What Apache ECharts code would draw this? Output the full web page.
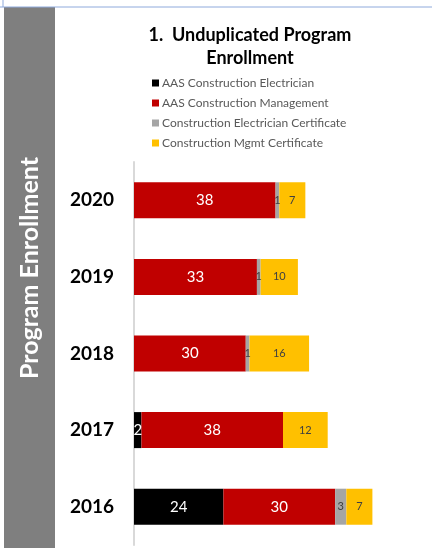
<!DOCTYPE html>
<html>
<head>
<meta charset="utf-8">
<script src="https://cdn.jsdelivr.net/npm/echarts@6/dist/echarts.min.js"></script>
<style>
    html, body { margin: 0; padding: 0; background: #fff; }
    #chart { width: 432px; height: 548px; }
</style>
</head>
<body>
<div id="chart"></div>
<script>
    // 年份 (bottom to top)
    var years = ['2016', '2017', '2018', '2019', '2020'];
    var seriesNames = ['AAS Construction Electrician', 'AAS Construction Management', 'Construction Electrician Certificate', 'Construction Mgmt Certificate'];
    var aasElectrician = [24, 2, 0, 0, 0];
    var aasManagement = [30, 38, 30, 33, 38];
    var electricianCert = [3, 0, 1, 1, 1];
    var mgmtCert = [7, 12, 16, 10, 7];

    var colors = ['#000000', '#c00000', '#a5a5a5', '#ffc000'];
    var labelColors = ['#ffffff', '#ffffff', '#404040', '#404040'];
    var labelSizes = [15, 15, 11, 11];
    var allData = [aasElectrician, aasManagement, electricianCert, mgmtCert];

    var series = allData.map(function (d, i) {
        return {
            name: seriesNames[i],
            type: 'bar',
            stack: 'total',
            barWidth: 36,
            data: d,
            itemStyle: { color: colors[i] },
            label: {
                show: true,
                position: 'inside',
                color: labelColors[i],
                fontSize: labelSizes[i],
                fontFamily: 'Lato',
                formatter: function (p) { return p.value ? p.value : ''; }
            }
        };
    });

    var chart = echarts.init(document.getElementById('chart'));
    chart.setOption({
        animation: false,
        color: colors,
        title: {
            text: '1.  Unduplicated Program\nEnrollment',
            left: 245,
            top: 19,
            textAlign: 'center',
            textStyle: {
                fontFamily: 'Lato',
                fontWeight: 'bold',
                fontSize: 18,
                lineHeight: 23,
                color: '#000'
            }
        },
        legend: {
            orient: 'vertical',
            left: 147,
            top: 72,
            icon: 'rect',
            itemWidth: 7,
            itemHeight: 7,
            itemGap: 8,
            data: seriesNames,
            textStyle: { fontFamily: 'Lato', fontSize: 12, lineHeight: 12, color: '#595959', padding: [0, 0, 0, -2] }
        },
        grid: { left: 134, right: 0, top: 162, bottom: 3, containLabel: false },
        xAxis: { type: 'value', min: 0, max: 80, show: false },
        yAxis: {
            type: 'category',
            data: years,
            axisLine: { lineStyle: { color: '#d9d9d9', width: 2 } },
            axisTick: { show: false },
            axisLabel: { fontFamily: 'Lato', fontWeight: 'bold', fontSize: 19, color: '#000', margin: 20 }
        },
        graphic: [
            { type: 'rect', shape: { x: 4, y: 7, width: 51, height: 541 }, style: { fill: '#7f7f7f' } },
            {
                type: 'text', x: 30, y: 268, rotation: Math.PI / 2,
                style: { text: 'Program Enrollment', fill: '#fff', font: 'bold 25px Lato', align: 'center', verticalAlign: 'middle' }
            },
            { type: 'line', shape: { x1: 0, y1: 7, x2: 432, y2: 7 }, style: { stroke: '#8faadc', lineWidth: 1 } },
            { type: 'line', shape: { x1: 3, y1: 0, x2: 3, y2: 7 }, style: { stroke: '#8faadc', lineWidth: 1 } }
        ],
        series: series
    });
</script>
</body>
</html>
